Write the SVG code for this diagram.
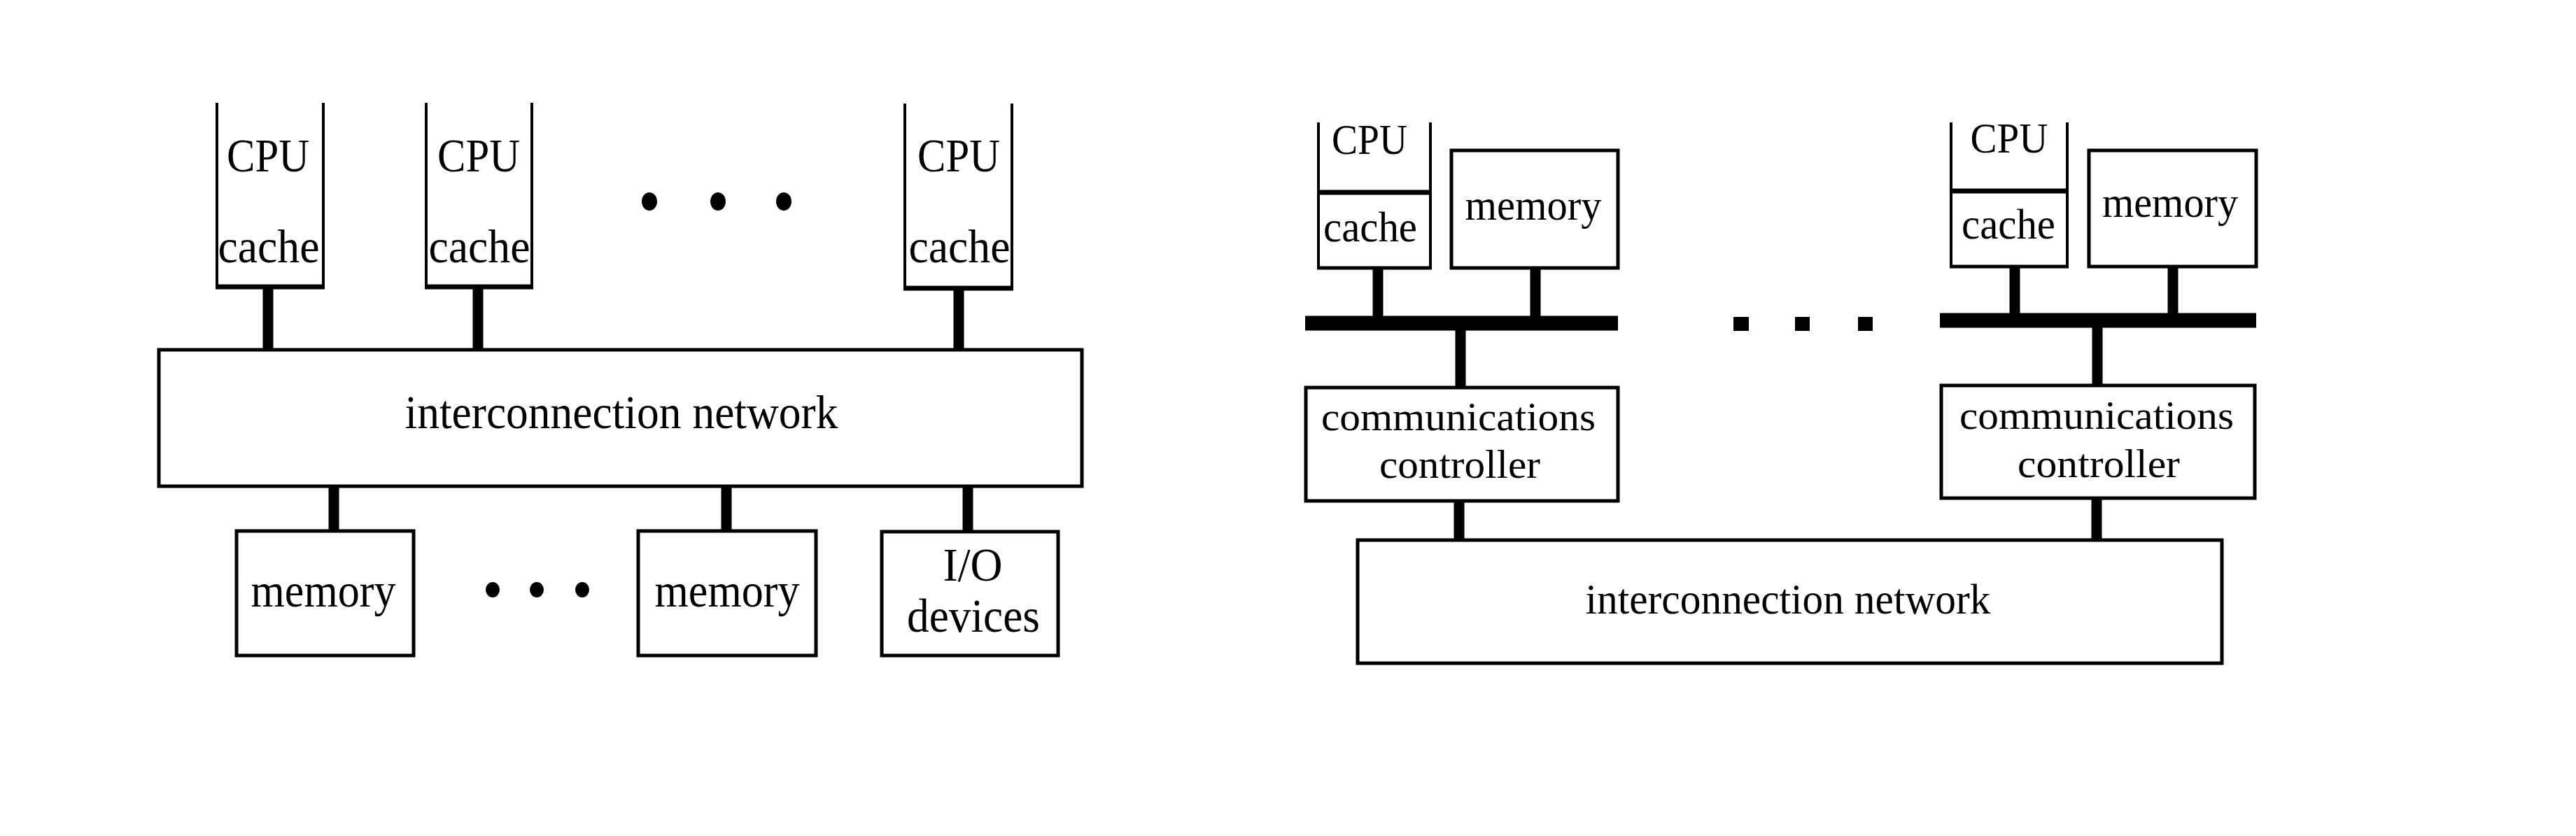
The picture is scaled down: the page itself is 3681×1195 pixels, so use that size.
<svg xmlns="http://www.w3.org/2000/svg" width="3681" height="1195" viewBox="0 0 3681 1195">
<style>
.box{fill:none;stroke:#000;stroke-width:5}
.side{fill:none;stroke:#000;stroke-width:4}
.bot{fill:none;stroke:#000;stroke-width:7}
.conn{stroke:#000;stroke-width:15;fill:none}
.bus{stroke:#000;stroke-width:21;fill:none}
text{font-family:"Liberation Serif","Times New Roman",serif;fill:#000;text-anchor:middle}
.t68{font-size:68px}
.t62{font-size:62px}
.t56{font-size:56px}
</style>
<rect width="3681" height="1195" fill="#fff"/>
<!-- Left diagram -->
<g id="cpu1">
<path class="side" d="M310,147V410M462,147V410"/>
<path class="bot" d="M308,410H464"/>
<text class="t68" x="383" y="245" textLength="118" lengthAdjust="spacingAndGlyphs">CPU</text>
<text class="t68" x="384" y="375" textLength="145" lengthAdjust="spacingAndGlyphs">cache</text>
</g>
<g id="cpu2">
<path class="side" d="M609,147V410M760,147V410"/>
<path class="bot" d="M607,410H762"/>
<text class="t68" x="684" y="245" textLength="118" lengthAdjust="spacingAndGlyphs">CPU</text>
<text class="t68" x="685" y="375" textLength="145" lengthAdjust="spacingAndGlyphs">cache</text>
</g>
<g id="cpu3">
<path class="side" d="M1293,148V412M1446,148V412"/>
<path class="bot" d="M1291,412H1448"/>
<text class="t68" x="1370" y="245" textLength="118" lengthAdjust="spacingAndGlyphs">CPU</text>
<text class="t68" x="1371" y="375" textLength="145" lengthAdjust="spacingAndGlyphs">cache</text>
</g>
<g id="dots-top">
<ellipse cx="928" cy="288" rx="11" ry="13"/>
<ellipse cx="1026" cy="288" rx="11" ry="13"/>
<ellipse cx="1120" cy="288" rx="11" ry="13"/>
</g>
<g id="net-left">
<rect class="box" x="227" y="500" width="1319" height="195"/>
<text class="t68" x="888" y="612" textLength="619" lengthAdjust="spacingAndGlyphs">interconnection network</text>
</g>
<g id="mem1">
<rect class="box" x="338" y="759" width="253" height="178"/>
<text class="t68" x="462" y="867" textLength="207" lengthAdjust="spacingAndGlyphs">memory</text>
</g>
<g id="dots-bottom">
<ellipse cx="704" cy="843" rx="10" ry="11"/>
<ellipse cx="767" cy="843" rx="10" ry="11"/>
<ellipse cx="832" cy="843" rx="10" ry="11"/>
</g>
<g id="mem2">
<rect class="box" x="912" y="759" width="254" height="178"/>
<text class="t68" x="1039" y="867" textLength="207" lengthAdjust="spacingAndGlyphs">memory</text>
</g>
<g id="io">
<rect class="box" x="1260" y="760" width="252" height="177"/>
<text class="t68" x="1390" y="830" textLength="85" lengthAdjust="spacingAndGlyphs">I/O</text>
<text class="t68" x="1391" y="903" textLength="190" lengthAdjust="spacingAndGlyphs">devices</text>
</g>
<!-- Right diagram -->
<g id="node1-cpu">
<path class="side" d="M1884,175V383M2044,175V383"/>
<path class="bot" d="M1884,275H2044"/>
<path class="box" d="M1882,383H2046"/>
<text class="t62" x="1957" y="220" textLength="108" lengthAdjust="spacingAndGlyphs">CPU</text>
<text class="t62" x="1958" y="345" textLength="134" lengthAdjust="spacingAndGlyphs">cache</text>
</g>
<g id="node1-mem">
<rect class="box" x="2074" y="215" width="238" height="168"/>
<text class="t62" x="2191" y="314" textLength="195" lengthAdjust="spacingAndGlyphs">memory</text>
</g>
<g id="node1-cc">
<rect class="box" x="1866" y="554" width="446" height="162"/>
<text class="t56" x="2084" y="615" textLength="392" lengthAdjust="spacingAndGlyphs">communications</text>
<text class="t56" x="2086" y="683" textLength="230" lengthAdjust="spacingAndGlyphs">controller</text>
</g>
<g id="dots-mid">
<rect x="2477" y="453" width="22" height="20"/>
<rect x="2565" y="453" width="21" height="20"/>
<rect x="2655" y="453" width="21" height="20"/>
</g>
<g id="node2-cpu">
<path class="side" d="M2788,175V381M2954,175V381"/>
<path class="bot" d="M2788,273H2954"/>
<path class="box" d="M2786,381H2956"/>
<text class="t62" x="2871" y="218" textLength="111" lengthAdjust="spacingAndGlyphs">CPU</text>
<text class="t62" x="2870" y="341" textLength="134" lengthAdjust="spacingAndGlyphs">cache</text>
</g>
<g id="node2-mem">
<rect class="box" x="2985" y="215" width="239" height="166"/>
<text class="t62" x="3101" y="310" textLength="194" lengthAdjust="spacingAndGlyphs">memory</text>
</g>
<g id="node2-cc">
<rect class="box" x="2774" y="551" width="448" height="161"/>
<text class="t56" x="2996" y="613" textLength="392" lengthAdjust="spacingAndGlyphs">communications</text>
<text class="t56" x="2999" y="682" textLength="232" lengthAdjust="spacingAndGlyphs">controller</text>
</g>
<g id="net-right">
<rect class="box" x="1940" y="772" width="1235" height="176"/>
<text class="t62" x="2555" y="877" textLength="579" lengthAdjust="spacingAndGlyphs">interconnection network</text>
</g>
<!-- Connectors -->
<g id="connectors">
<path class="conn" d="M383,410V500M683,410V500M1370,412V500"/>
<path class="conn" d="M477,695V759M1038,695V759M1383,695V760"/>
<path class="bus" d="M1865,462H2312"/>
<path class="conn" d="M1969,383V452M2194,383V452M2087,472V554M2085,716V772"/>
<path class="bus" d="M2772,458H3224"/>
<path class="conn" d="M2879,381V448M3105,381V448M2997,468V551M2996,712V772"/>
</g>
</svg>
